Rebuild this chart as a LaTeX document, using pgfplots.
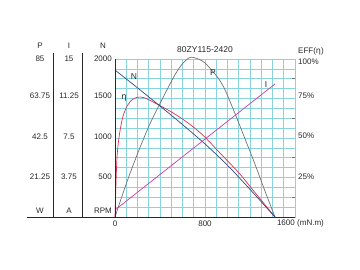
\documentclass[border=0pt]{standalone}
\usepackage{pgfplots}
\pgfplotsset{compat=1.18}
\usepackage{fontspec}
\setmainfont{Liberation Sans}
\newfontfamily\symfont{DejaVu Sans}
\definecolor{gridc}{RGB}{135,212,222}
\definecolor{ncol}{RGB}{55,70,125}
\definecolor{pcol}{RGB}{115,115,115}
\definecolor{ecol}{RGB}{220,50,85}
\definecolor{icol}{RGB}{200,60,170}
\definecolor{txt}{RGB}{40,40,40}
\begin{document}
\begin{tikzpicture}
\useasboundingbox (0,0) rectangle (360pt,270pt);
\begin{axis}[at={(115pt,53pt)}, anchor=south west, width=180pt, height=158pt, scale only axis,
  xmin=0, xmax=1600, ymin=0, ymax=2000,
  xtick={0,100,...,1600}, ytick={0,125,...,2000},
  xticklabels={}, yticklabels={}, major tick length=0pt,
  grid=major, grid style={gridc, line width=0.6pt},
  axis line style={draw=gridc, line width=0.6pt},
  clip=false]
\addplot[pcol, line width=0.7pt, smooth, tension=0.5] coordinates {
(0,0)(100,420)(200,800)(311,1180)(444,1560)(533,1800)(600,1940)(667,2020)(740,2000)(800,1950)(889,1810)(935,1720)(978,1610)(1058,1340)(1150,1010)(1244,670)(1330,340)(1422,0)};
\addplot[ecol, line width=0.7pt, smooth, tension=0.5] coordinates {
(0,0)(10,480)(20,800)(40,1050)(70,1270)(110,1410)(150,1480)(196,1515)(260,1510)(373,1430)(489,1340)(605,1235)(700,1135)(800,1010)(933,810)(1100,560)(1250,300)(1422,0)};
\addplot[ncol, line width=0.7pt, smooth, tension=0.4] coordinates {
(0,1860)(200,1635)(400,1405)(600,1170)(800,925)(1000,655)(1200,350)(1422,0)};
\addplot[icol, line width=0.7pt] coordinates {(0,89)(1422,1684)};
\end{axis}
\foreach \v in {72.75,112.25,151.75,191.25}{\draw[pcol, line width=0.5pt] (295pt,\v pt) -- ++(-3pt,0);}
\draw[txt, line width=0.7pt] (115pt,53pt) -- (115pt,211pt);
\draw[txt, line width=0.7pt] (27pt,53pt) -- (295pt,53pt);
\draw[txt, line width=0.6pt] (53pt,53pt) -- (53pt,217pt);
\draw[txt, line width=0.6pt] (82pt,53pt) -- (82pt,217pt);
\begin{scope}[every node/.style={font=\fontsize{8}{9.5}\selectfont, text=txt, inner sep=0pt}]
\node at (40pt,224pt) {P};
\node at (69pt,224pt) {I};
\node at (103pt,224pt) {N};
\node at (40pt,211pt) {85};
\node at (40pt,174pt) {63.75};
\node at (40pt,133pt) {42.5};
\node at (40pt,93pt) {21.25};
\node at (40pt,59pt) {W};
\node at (69pt,211pt) {15};
\node at (69pt,174pt) {11.25};
\node at (69pt,133pt) {7.5};
\node at (69pt,93pt) {3.75};
\node at (69pt,59pt) {A};
\node[anchor=east] at (112pt,211pt) {2000};
\node[anchor=east] at (112pt,174pt) {1500};
\node[anchor=east] at (112pt,133pt) {1000};
\node[anchor=east] at (112pt,93pt) {500};
\node[anchor=east] at (112pt,59pt) {RPM};
\node at (115pt,46pt) {0};
\node at (205pt,46pt) {800};
\node[anchor=east] at (295pt,47pt) {1600};
\node[anchor=west] at (297pt,47pt) {(mN.m)};
\node[font=\fontsize{8.5}{10}\selectfont] at (205pt,220pt) {80ZY115-2420};
\node[anchor=west] at (298pt,219pt) {EFF({\symfont η})};
\node[anchor=west] at (298pt,208pt) {100\%};
\node[anchor=west] at (298pt,174pt) {75\%};
\node[anchor=west] at (298pt,134pt) {50\%};
\node[anchor=west] at (298pt,93pt) {25\%};
\node[font=\fontsize{8.5}{10}\selectfont] at (134pt,193pt) {N};
\node[font=\fontsize{8.5}{10}\selectfont] at (124pt,172pt) {\symfont η};
\node[font=\fontsize{8.5}{10}\selectfont] at (213pt,197pt) {P};
\node[font=\fontsize{8.5}{10}\selectfont] at (266pt,185pt) {I};
\end{scope}
\end{tikzpicture}
\end{document}
